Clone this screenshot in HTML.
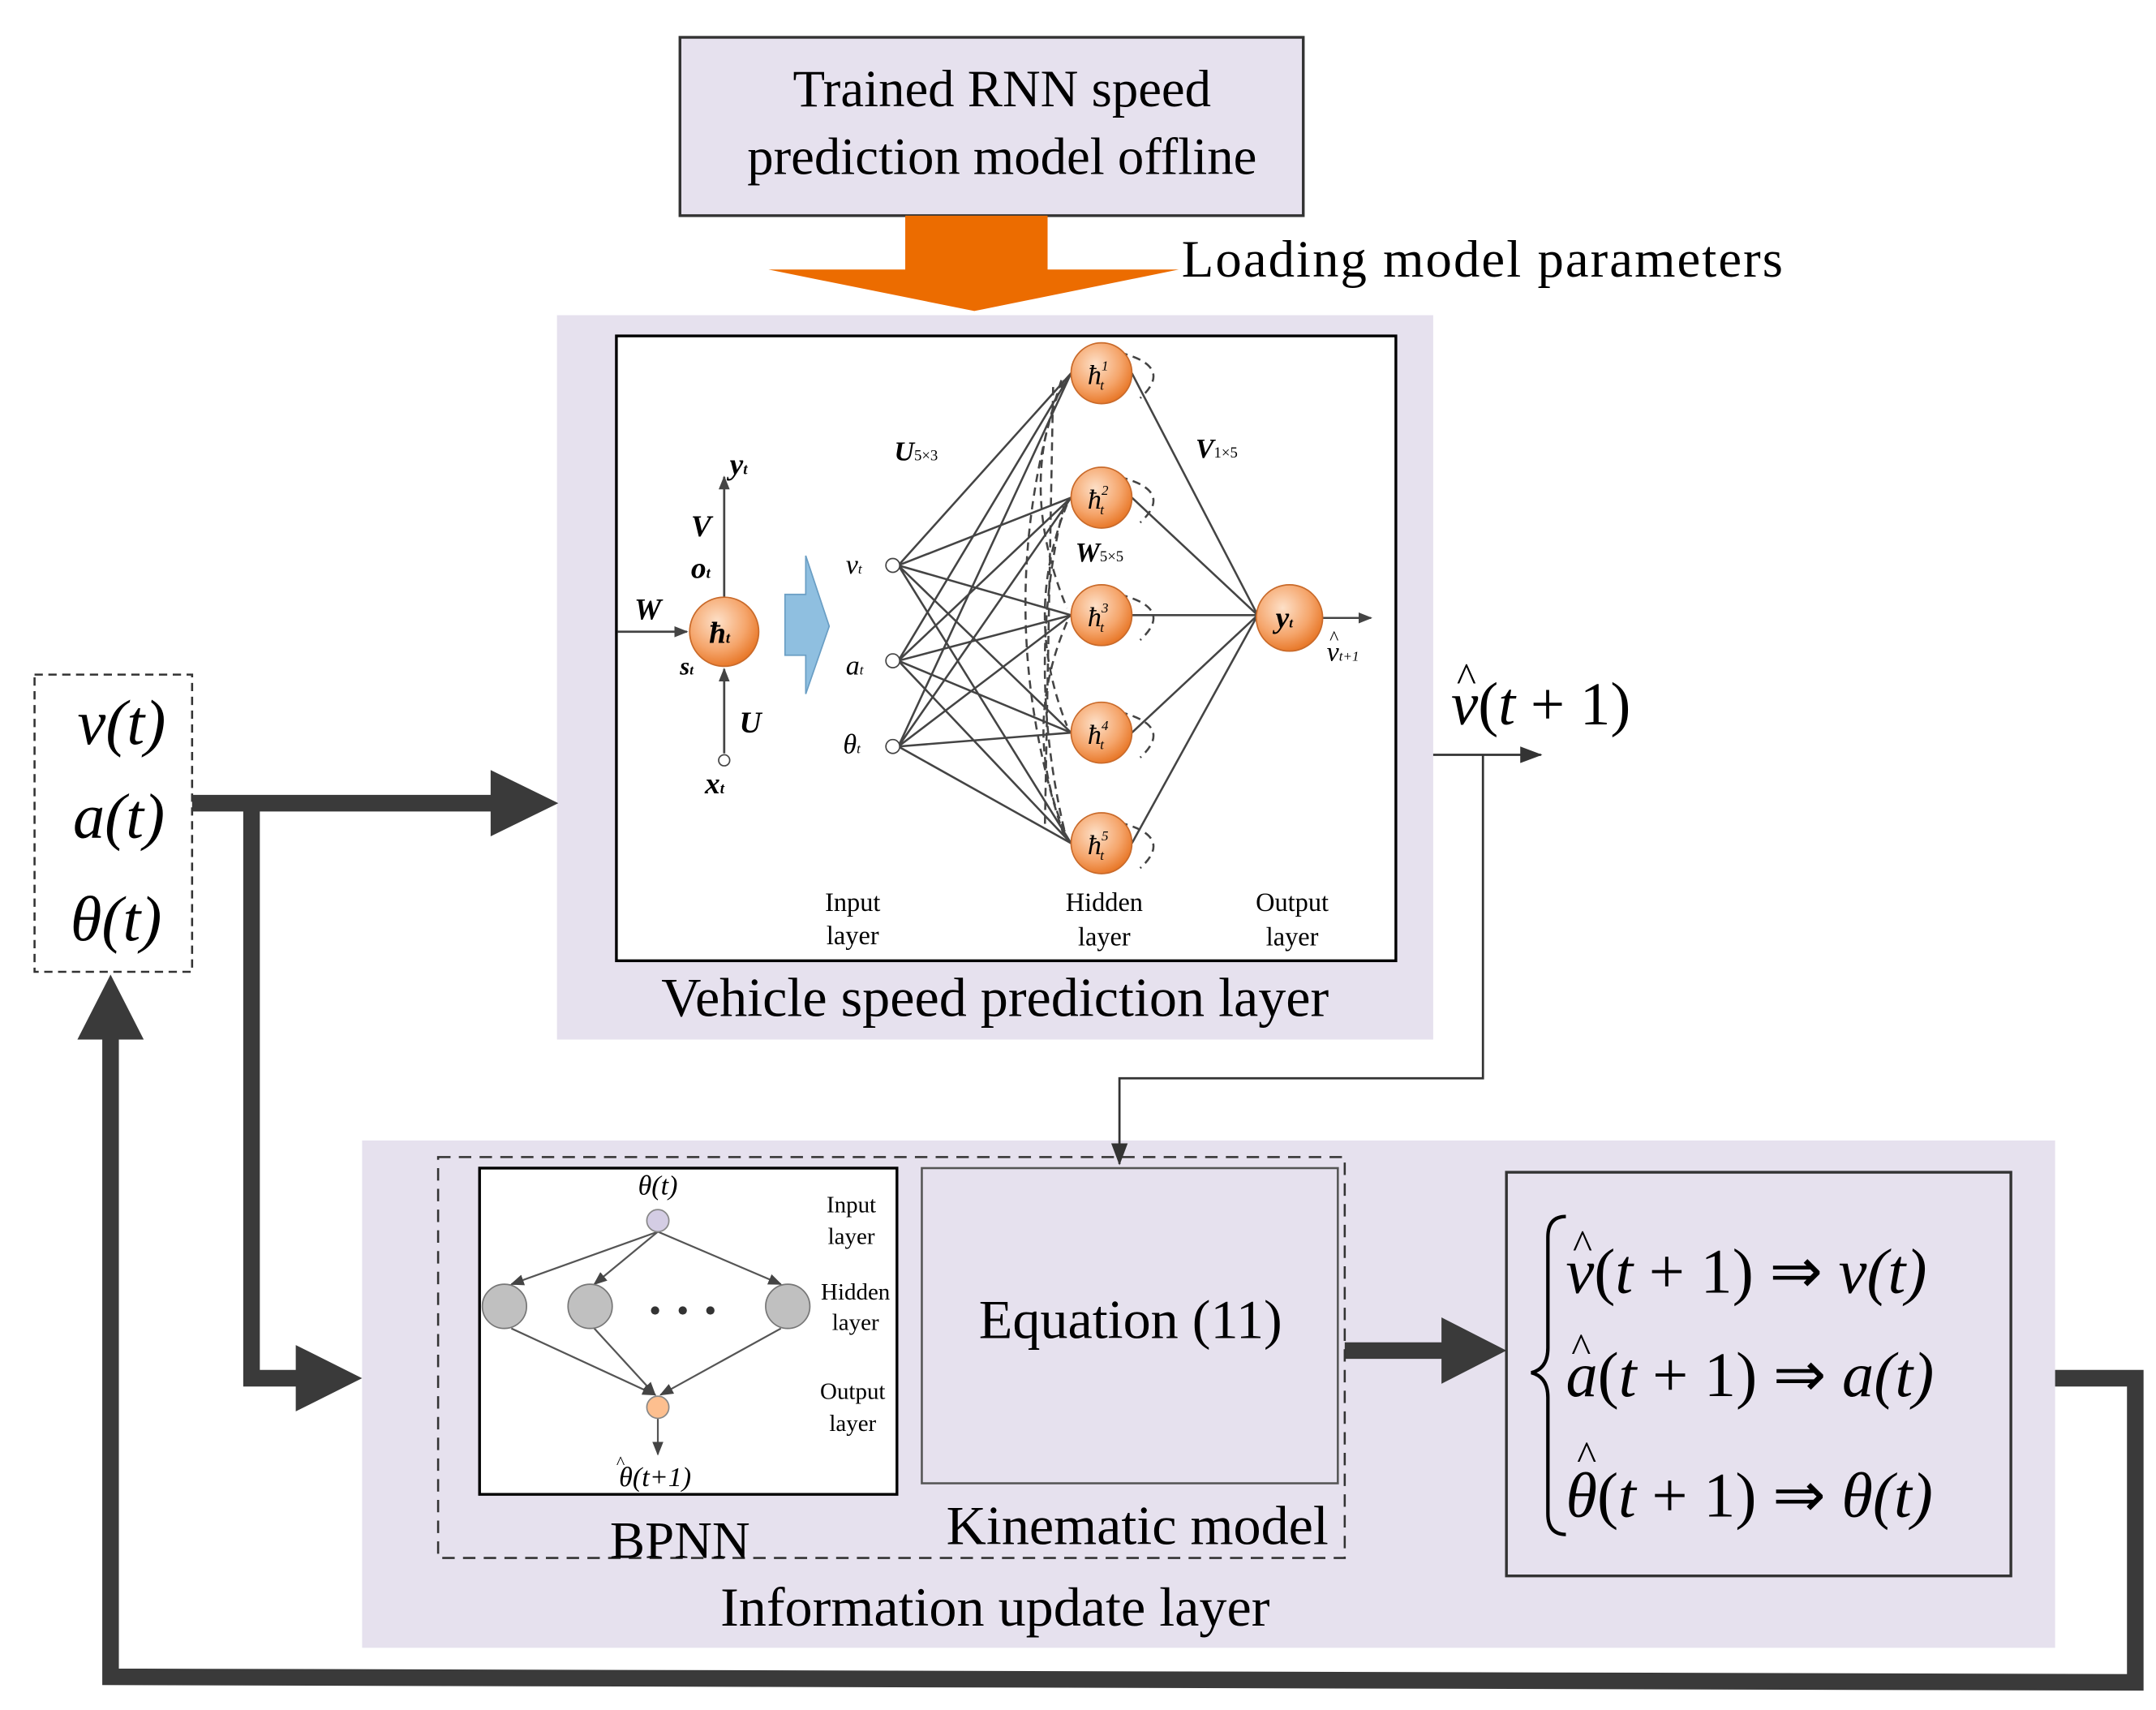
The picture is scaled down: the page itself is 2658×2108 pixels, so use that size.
<!DOCTYPE html>
<html><head><meta charset="utf-8"><style>html,body{margin:0;padding:0;background:#fff}svg{display:block}</style></head>
<body>
<svg width="2658" height="2108" viewBox="0 0 1560 1237" preserveAspectRatio="none" xmlns="http://www.w3.org/2000/svg" font-family="Liberation Serif, serif">
<defs>
<marker id="ah" markerWidth="10" markerHeight="10" refX="9" refY="5" orient="auto" markerUnits="userSpaceOnUse"><path d="M0,1 L10,5 L0,9 z" fill="#444"/></marker>
<marker id="ah2" markerWidth="16" markerHeight="12" refX="15" refY="6" orient="auto" markerUnits="userSpaceOnUse"><path d="M0,0 L16,6 L0,12 z" fill="#333"/></marker>
<radialGradient id="og" cx="0.4" cy="0.35" r="0.7"><stop offset="0" stop-color="#fde0c8"/><stop offset="0.6" stop-color="#f5a56b"/><stop offset="1" stop-color="#e6711f"/></radialGradient>
</defs>
<rect width="1560" height="1237" fill="#fff"/>
<rect x="492" y="27" width="451" height="129" fill="#e6e1ee" stroke="#333" stroke-width="2"/>
<text x="725" y="77" font-size="38" text-anchor="middle">Trained RNN speed</text>
<text x="725" y="126" font-size="38" text-anchor="middle">prediction model offline</text>
<polygon points="655,156 758,156 758,195 853,195 705,225 556,195 655,195" fill="#ec6c00"/>
<text x="855" y="200" font-size="38" textLength="435">Loading model parameters</text>
<rect x="403" y="228" width="634" height="524" fill="#e6e1ee"/>
<rect x="446" y="243" width="564" height="452" fill="#fff" stroke="#000" stroke-width="2"/>
<text x="720" y="735" font-size="40" text-anchor="middle">Vehicle speed prediction layer</text>
<g stroke="#444" stroke-width="1.6" fill="none">
<line x1="447" y1="457" x2="497" y2="457" marker-end="url(#ah)"/>
<line x1="524" y1="432" x2="524" y2="345" marker-end="url(#ah)"/>
<line x1="524" y1="545" x2="524" y2="484" marker-end="url(#ah)"/>
</g>
<circle cx="524" cy="550" r="4" fill="#fff" stroke="#444"/>
<circle cx="524" cy="457" r="25" fill="url(#og)" stroke="#c96a2a"/>
<g font-style="italic" font-weight="bold" font-size="22">
<text x="513" y="465">ħ<tspan font-size="11">t</tspan></text>
<text x="528" y="343">y<tspan font-size="11">t</tspan></text>
<text x="500" y="388">V</text>
<text x="500" y="418">o<tspan font-size="11">t</tspan></text>
<text x="459" y="448">W</text>
<text x="492" y="488" font-size="18">s<tspan font-size="10">t</tspan></text>
<text x="535" y="530">U</text>
<text x="510" y="574">x<tspan font-size="11">t</tspan></text>
</g>
<polygon points="568,430 583,430 583,402 600,453 583,502 583,474 568,474" fill="#8fbfe0" stroke="#6a9ec4"/>
<g stroke="#444" stroke-width="1.5">
<line x1="650" y1="409" x2="775" y2="270"/><line x1="650" y1="409" x2="775" y2="360"/><line x1="650" y1="409" x2="775" y2="445"/><line x1="650" y1="409" x2="775" y2="530"/><line x1="650" y1="409" x2="775" y2="610"/>
<line x1="650" y1="478" x2="775" y2="270"/><line x1="650" y1="478" x2="775" y2="360"/><line x1="650" y1="478" x2="775" y2="445"/><line x1="650" y1="478" x2="775" y2="530"/><line x1="650" y1="478" x2="775" y2="610"/>
<line x1="650" y1="540" x2="775" y2="270"/><line x1="650" y1="540" x2="775" y2="360"/><line x1="650" y1="540" x2="775" y2="445"/><line x1="650" y1="540" x2="775" y2="530"/><line x1="650" y1="540" x2="775" y2="610"/>
<line x1="819" y1="270" x2="910" y2="445"/><line x1="819" y1="360" x2="910" y2="445"/><line x1="819" y1="445" x2="910" y2="445"/><line x1="819" y1="530" x2="910" y2="445"/><line x1="819" y1="610" x2="910" y2="445"/>
<line x1="955" y1="447" x2="992" y2="447" marker-end="url(#ah)"/>
</g>
<g stroke="#444" stroke-width="1.5" fill="none" stroke-dasharray="6,4">
<path d="M770,275 Q735,350 772,440"/><path d="M768,275 Q715,440 770,605"/><path d="M772,365 Q740,445 772,525"/><path d="M772,450 Q738,530 772,605"/><path d="M770,600 Q742,480 770,365"/><path d="M762,280 L756,600"/>
<path d="M810,255 Q850,265 825,288"/><path d="M810,345 Q850,355 825,378"/><path d="M810,430 Q850,440 825,463"/><path d="M810,515 Q850,525 825,548"/><path d="M810,595 Q850,605 825,628"/>
</g>
<g fill="#fff" stroke="#444"><circle cx="646" cy="409" r="5"/><circle cx="646" cy="478" r="5"/><circle cx="646" cy="540" r="5"/></g>
<g fill="url(#og)" stroke="#c96a2a">
<circle cx="797" cy="270" r="22"/><circle cx="797" cy="360" r="22"/><circle cx="797" cy="445" r="22"/><circle cx="797" cy="530" r="22"/><circle cx="797" cy="610" r="22"/><circle cx="933" cy="447" r="24"/>
</g>
<g font-style="italic" font-size="20">
<text x="787" y="278">ħ<tspan font-size="10" dy="-10">1</tspan><tspan font-size="10" dx="-6" dy="14">t</tspan></text>
<text x="787" y="368">ħ<tspan font-size="10" dy="-10">2</tspan><tspan font-size="10" dx="-6" dy="14">t</tspan></text>
<text x="787" y="453">ħ<tspan font-size="10" dy="-10">3</tspan><tspan font-size="10" dx="-6" dy="14">t</tspan></text>
<text x="787" y="538">ħ<tspan font-size="10" dy="-10">4</tspan><tspan font-size="10" dx="-6" dy="14">t</tspan></text>
<text x="787" y="618">ħ<tspan font-size="10" dy="-10">5</tspan><tspan font-size="10" dx="-6" dy="14">t</tspan></text>
<text x="923" y="454" font-weight="bold" font-size="22">y<tspan font-size="10">t</tspan></text>
<text x="612" y="415">v<tspan font-size="10">t</tspan></text>
<text x="612" y="488">a<tspan font-size="10">t</tspan></text>
<text x="610" y="545">θ<tspan font-size="10">t</tspan></text>
<text x="960" y="478">v<tspan font-size="10">t+1</tspan></text>
<text x="962" y="466" font-size="14" font-style="normal">^</text>
<text x="647" y="333" font-weight="bold">U<tspan font-size="11" font-weight="normal" font-style="normal">5×3</tspan></text>
<text x="865" y="331" font-weight="bold">V<tspan font-size="11" font-weight="normal" font-style="normal">1×5</tspan></text>
<text x="778" y="406" font-weight="bold">W<tspan font-size="11" font-weight="normal" font-style="normal">5×5</tspan></text>
</g>
<g font-size="19" text-anchor="middle">
<text x="617" y="659">Input</text><text x="617" y="683">layer</text>
<text x="799" y="659">Hidden</text><text x="799" y="684">layer</text>
<text x="935" y="659">Output</text><text x="935" y="684">layer</text>
</g>
<rect x="25" y="488" width="114" height="215" fill="#fff" stroke="#333" stroke-width="1.5" stroke-dasharray="6,4"/>
<g font-size="46" font-style="italic" text-anchor="middle">
<text x="88" y="538">v(t)</text><text x="86" y="606">a(t)</text><text x="84" y="680">θ(t)</text>
</g>
<rect x="262" y="825" width="1225" height="367" fill="#e6e1ee"/>
<g stroke="#3a3a3a" stroke-width="12" fill="none">
<polyline points="139,581 360,581"/>
<polyline points="182,581 182,997 220,997"/>
<polyline points="973,977 1048,977"/>
<polyline points="1487,997 1545,997 1545,1217 80,1213 80,748"/>
</g>
<g fill="#3a3a3a">
<polygon points="355,557 404,581 355,605"/>
<polygon points="214,973 262,997 214,1021"/>
<polygon points="1043,953 1090,977 1043,1001"/>
<polygon points="56,752 80,705 104,752"/>
</g>
<g stroke="#333" stroke-width="1.6" fill="none">
<line x1="1037" y1="546" x2="1115" y2="546" marker-end="url(#ah2)"/>
<polyline points="1073,546 1073,780 810,780 810,842" marker-end="url(#ah2)"/>
</g>
<text x="1050" y="524" font-size="44" font-style="italic">v<tspan font-style="normal">(</tspan>t<tspan font-style="normal"> + 1)</tspan></text>
<text x="1054" y="500" font-size="30">^</text>
<rect x="317" y="837" width="656" height="290" fill="none" stroke="#333" stroke-width="1.5" stroke-dasharray="9,6"/>
<rect x="347" y="845" width="302" height="236" fill="#fff" stroke="#000" stroke-width="2"/>
<rect x="667" y="845" width="301" height="228" fill="#e6e1ee" stroke="#555" stroke-width="1.5"/>
<text x="818" y="968" font-size="40" text-anchor="middle">Equation (11)</text>
<text x="823" y="1117" font-size="40" text-anchor="middle">Kinematic model</text>
<text x="492" y="1127" font-size="38" text-anchor="middle">BPNN</text>
<text x="720" y="1176" font-size="40" text-anchor="middle">Information update layer</text>
<g stroke="#555" stroke-width="1.3" fill="none">
<line x1="476" y1="891" x2="370" y2="929" marker-end="url(#ah)"/>
<line x1="476" y1="891" x2="430" y2="929" marker-end="url(#ah)"/>
<line x1="476" y1="891" x2="565" y2="929" marker-end="url(#ah)"/>
<line x1="370" y1="961" x2="474" y2="1009" marker-end="url(#ah)"/>
<line x1="430" y1="961" x2="474" y2="1009" marker-end="url(#ah)"/>
<line x1="565" y1="961" x2="478" y2="1009" marker-end="url(#ah)"/>
<line x1="476" y1="1026" x2="476" y2="1052" marker-end="url(#ah)"/>
</g>
<circle cx="476" cy="883" r="8" fill="#d4cde4" stroke="#888"/>
<g fill="#c0c0c0" stroke="#777"><circle cx="365" cy="945" r="16"/><circle cx="427" cy="945" r="16"/><circle cx="570" cy="945" r="16"/></g>
<g fill="#333"><circle cx="474" cy="948" r="3"/><circle cx="494" cy="948" r="3"/><circle cx="514" cy="948" r="3"/></g>
<circle cx="476" cy="1018" r="8" fill="#fdbf8f" stroke="#888"/>
<text x="476" y="864" font-size="20" font-style="italic" text-anchor="middle">θ(t)</text>
<text x="474" y="1075" font-size="20" font-style="italic" text-anchor="middle">θ(t+1)</text>
<text x="446" y="1062" font-size="13">^</text>
<g font-size="17" text-anchor="middle">
<text x="616" y="877">Input</text><text x="616" y="900">layer</text>
<text x="619" y="940">Hidden</text><text x="619" y="962">layer</text>
<text x="617" y="1012">Output</text><text x="617" y="1035">layer</text>
</g>
<rect x="1090" y="848" width="365" height="292" fill="#e6e1ee" stroke="#333" stroke-width="2"/>
<path d="M1133,880 Q1120,880 1120,895 L1120,975 Q1120,990 1108,993 Q1120,996 1120,1011 L1120,1095 Q1120,1110 1133,1110" fill="none" stroke="#000" stroke-width="2.5"/>
<g font-size="46" font-style="italic">
<text x="1133" y="935">v<tspan font-style="normal">(</tspan>t<tspan font-style="normal"> + 1) ⇒ </tspan>v(t)</text>
<text x="1133" y="1010">a<tspan font-style="normal">(</tspan>t<tspan font-style="normal"> + 1) ⇒ </tspan>a(t)</text>
<text x="1133" y="1097">θ<tspan font-style="normal">(</tspan>t<tspan font-style="normal"> + 1) ⇒ </tspan>θ(t)</text>
</g>
<g font-size="30"><text x="1138" y="910">^</text><text x="1137" y="985">^</text><text x="1141" y="1063">^</text></g>
</svg>
</body></html>
